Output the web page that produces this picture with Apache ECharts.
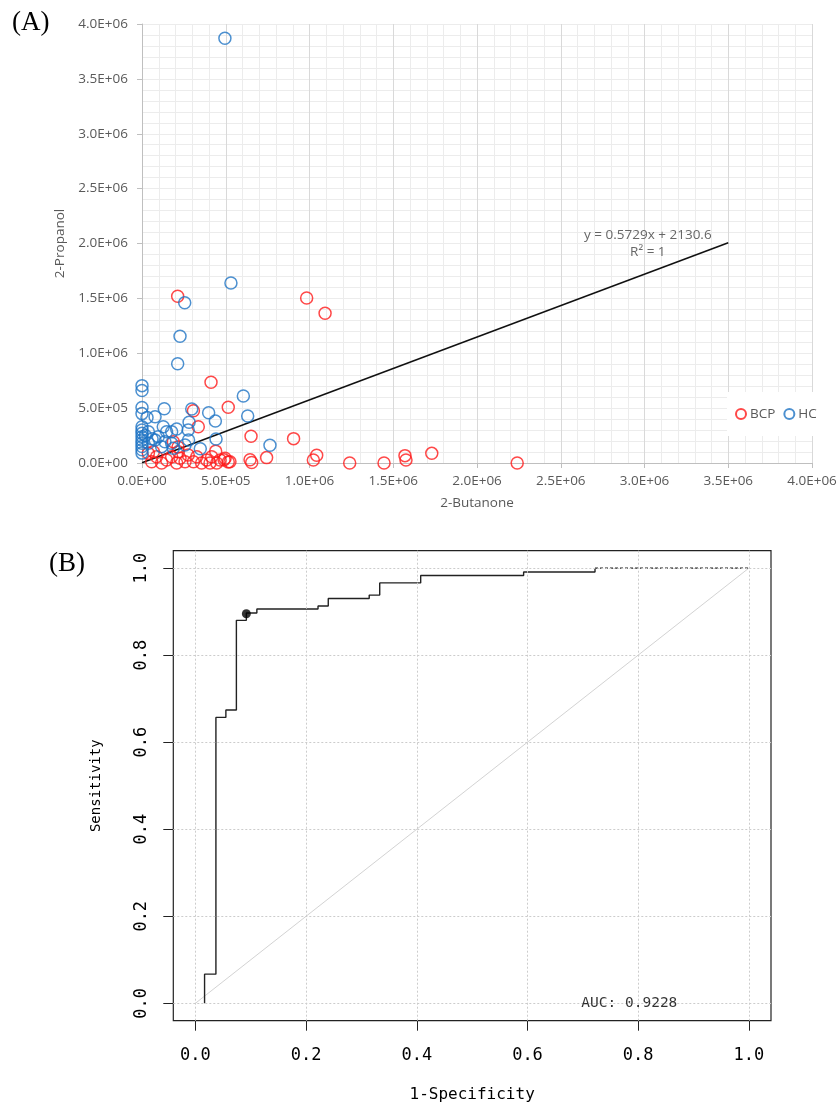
<!DOCTYPE html>
<html>
<head>
<meta charset="utf-8">
<script src="https://cdn.jsdelivr.net/npm/echarts@6/dist/echarts.min.js"></script>
<style>
html,body{margin:0;padding:0;background:#fff;}
#chart{width:840px;height:1104px;}
</style>
</head>
<body>
<div id="chart"></div>
<script>
// ---------- Panel A data (2-Butanone vs 2-Propanol) ----------
const axisTickLabelsA = ['0.0E+00','5.0E+05','1.0E+06','1.5E+06','2.0E+06','2.5E+06','3.0E+06','3.5E+06','4.0E+06'];

const bcpX = [213000, 983000, 1093000, 412000, 515000, 307000, 336000, 651000, 905000, 440000,
  744000, 1043000, 1023000, 1240000, 1445000, 1570000, 1576000, 1730000, 2240000, 645000,
  655000, 490000, 515000, 406000, 215000, 187000, 217000, 68000, 58000, 87000,
  117000, 147000, 177000, 207000, 227000, 257000, 276000, 307000, 327000, 356000,
  386000, 416000, 446000, 466000, 496000, 525000, 38000];
const bcpY = [1520000, 1503000, 1364000, 735000, 508000, 476000, 330000, 243000, 222000, 108000,
  49000, 70000, 27000, 0, 0, 67000, 27000, 88000, 0, 30000,
  5000, 30000, 10000, 0, 146000, 194000, 103000, 103000, 12000, 57000,
  0, 27000, 57000, 0, 43000, 12000, 73000, 12000, 57000, 0,
  27000, 57000, 0, 27000, 43000, 12000, 88000];

const hcX = [495000, 531000, 255000, 227000, 213000, 605000, 631000, 764000, 398000, 438000,
  442000, 297000, 281000, 278000, 348000, 133000, 78000, 30000,
  0, 0, 0, 0, 0, 0, 0, 0, 0, 0, 0, 0, 0,
  127000, 147000, 177000, 207000, 97000, 78000, 137000, 117000, 177000, 187000,
  38000, 38000, 257000, 276000, 20000, 60000];
const hcY = [3870000, 1640000, 1460000, 1155000, 905000, 610000, 428000, 161000, 458000, 383000,
  219000, 492000, 372000, 210000, 130000, 495000, 422000, 415000,
  705000, 660000, 505000, 450000, 330000, 300000, 270000, 240000, 210000, 180000, 150000, 120000, 90000,
  330000, 285000, 285000, 310000, 240000, 210000, 194000, 149000, 180000, 134000,
  285000, 180000, 164000, 300000, 250000, 220000];

const trendSlope = 0.5729;
const trendIntercept = 2130.6;
const trendX = [0, 3500000];
const trendText = 'y = 0.5729x + 2130.6\nR\u00b2 = 1';
const trendLabelPos = [3020000, 2000000];

// ---------- Panel B data (ROC) ----------
const rocFpr  = [0.0165, 0.0165, 0.037, 0.037, 0.055, 0.055, 0.074, 0.074, 0.092, 0.092, 0.111, 0.111,
  0.2215, 0.2215, 0.240, 0.240, 0.314, 0.314, 0.333, 0.333, 0.407, 0.407, 0.593, 0.593, 0.722, 0.722];
const rocSens = [0.0, 0.067, 0.067, 0.657, 0.657, 0.674, 0.674, 0.880, 0.880, 0.897, 0.897, 0.906,
  0.906, 0.913, 0.913, 0.930, 0.930, 0.938, 0.938, 0.966, 0.966, 0.983, 0.983, 0.991, 0.991, 1.0];
const rocTailFpr = [0.722, 1.0];
const rocTailSens = [1.0, 1.0];
const diagX = [0, 1];
const diagY = [0, 1];
const cutFpr = 0.092, cutSens = 0.895;
const aucText = 'AUC: 0.9228';
const aucPos = [0.784, 0.0];
const rocTicks = [0, 0.2, 0.4, 0.6, 0.8, 1.0];
const rocTickLabels = ['0.0', '0.2', '0.4', '0.6', '0.8', '1.0'];

// ---------- build ----------
const zip = (a, b) => a.map((v, i) => [v, b[i]]);
const gray = '#595959';
const fontA = '"Open Sans", "Liberation Sans", sans-serif';
const fontB = '"DejaVu Sans Mono", monospace';

const gridLines = [];
rocTicks.forEach(t => { gridLines.push({ xAxis: t }); gridLines.push({ yAxis: t }); });

const chart = echarts.init(document.getElementById('chart'), null, { renderer: 'canvas' });
chart.setOption({
  animation: false,
  backgroundColor: '#fff',
  grid: [
    { left: 142, top: 24, width: 670, height: 439 },
    { left: 173.3, top: 550.7, width: 597.7, height: 470, show: true, borderColor: '#222', borderWidth: 1.2, backgroundColor: 'transparent' }
  ],
  legend: {
    data: ['BCP', 'HC'],
    left: 727, top: 392,
    padding: [15, 4, 15, 8],
    backgroundColor: '#fff',
    itemWidth: 10, itemHeight: 10, itemGap: 8,
    textStyle: { color: gray, fontSize: 13.5, fontFamily: fontA, padding: [0, 0, 0, -1] }
  },
  xAxis: [
    {
      gridIndex: 0, type: 'value', min: 0, max: 4000000, interval: 500000,
      name: '2-Butanone', nameLocation: 'middle', nameGap: 33,
      nameTextStyle: { color: gray, fontSize: 13.5, fontFamily: fontA },
      axisLine: { show: true, onZero: false, lineStyle: { color: '#bfbfbf', width: 1 } },
      axisTick: { show: true, length: 5, lineStyle: { color: '#bfbfbf' } },
      axisLabel: { color: gray, fontSize: 13.5, fontFamily: fontA, margin: 11,
        formatter: v => axisTickLabelsA[Math.round(v / 500000)] },
      splitLine: { show: true, lineStyle: { color: '#d9d9d9', width: 1 } },
      minorTick: { show: false, splitNumber: 5 },
      minorSplitLine: { show: true, lineStyle: { color: '#ececec', width: 1 } }
    },
    {
      gridIndex: 1, type: 'value', min: -0.04, max: 1.04,
      name: '1-Specificity', nameLocation: 'middle', nameGap: 66,
      nameTextStyle: { color: '#000', fontSize: 16, fontFamily: fontB },
      axisLine: { show: false, onZero: false },
      axisTick: { show: true, length: 10, customValues: rocTicks, lineStyle: { color: '#222' } },
      axisLabel: { color: '#000', fontSize: 17, fontFamily: fontB, margin: 26, customValues: rocTicks,
        formatter: v => rocTickLabels[Math.round(v * 5)] },
      splitLine: { show: false }
    }
  ],
  yAxis: [
    {
      gridIndex: 0, type: 'value', min: 0, max: 4000000, interval: 500000,
      name: '2-Propanol', nameLocation: 'middle', nameGap: 73,
      nameTextStyle: { color: gray, fontSize: 13.5, fontFamily: fontA },
      axisLine: { show: true, onZero: false, lineStyle: { color: '#bfbfbf', width: 1 } },
      axisTick: { show: true, length: 5, lineStyle: { color: '#bfbfbf' } },
      axisLabel: { color: gray, fontSize: 13.5, fontFamily: fontA, margin: 14,
        formatter: v => axisTickLabelsA[Math.round(v / 500000)] },
      splitLine: { show: true, lineStyle: { color: '#ececec', width: 1 } },
      minorTick: { show: false, splitNumber: 5 },
      minorSplitLine: { show: true, lineStyle: { color: '#ececec', width: 1 } }
    },
    {
      gridIndex: 1, type: 'value', min: -0.04, max: 1.04,
      name: 'Sensitivity', nameLocation: 'middle', nameGap: 70,
      nameTextStyle: { color: '#000', fontSize: 14, fontFamily: fontB },
      axisLine: { show: false, onZero: false },
      axisTick: { show: true, length: 10, customValues: rocTicks, lineStyle: { color: '#222' } },
      axisLabel: { color: '#000', fontSize: 17, fontFamily: fontB, margin: 23, rotate: 90, customValues: rocTicks,
        formatter: v => rocTickLabels[Math.round(v * 5)] },
      splitLine: { show: false }
    }
  ],
  graphic: [
    { type: 'text', left: 12, top: 9, style: { text: '(A)', fontSize: 27, fontFamily: '"Liberation Serif", serif', fill: '#000' } },
    { type: 'text', left: 49, top: 550, style: { text: '(B)', fontSize: 27, fontFamily: '"Liberation Serif", serif', fill: '#000' } }
  ],
  series: [
    {
      name: 'TrendLine', type: 'line', xAxisIndex: 0, yAxisIndex: 0,
      data: trendX.map(x => [x, trendSlope * x + trendIntercept]),
      symbol: 'none', lineStyle: { color: '#111', width: 1.6 }, z: 3, silent: true
    },
    {
      name: 'BCP', type: 'scatter', xAxisIndex: 0, yAxisIndex: 0, clip: false,
      data: zip(bcpX, bcpY), symbol: 'circle', symbolSize: 12,
      itemStyle: { color: 'rgba(255,255,255,0)', borderColor: '#ff1a1a', borderWidth: 1.5 }, z: 4
    },
    {
      name: 'HC', type: 'scatter', xAxisIndex: 0, yAxisIndex: 0, clip: false,
      data: zip(hcX, hcY), symbol: 'circle', symbolSize: 12,
      itemStyle: { color: 'rgba(255,255,255,0)', borderColor: '#1f74c4', borderWidth: 1.5 }, z: 4
    },
    {
      name: 'TrendLabel', type: 'scatter', xAxisIndex: 0, yAxisIndex: 0,
      data: [trendLabelPos], symbolSize: 1, itemStyle: { color: 'rgba(0,0,0,0)' }, silent: true,
      label: { show: true, position: 'inside', formatter: trendText, color: '#404040', fontSize: 13.5,
        fontFamily: fontA, lineHeight: 17, align: 'center' }
    },
    {
      name: 'Diagonal', type: 'line', xAxisIndex: 1, yAxisIndex: 1,
      data: zip(diagX, diagY), symbol: 'none', lineStyle: { color: '#d3d3d3', width: 1 }, z: 2, silent: true,
      markLine: {
        silent: true, symbol: 'none', label: { show: false },
        lineStyle: { color: '#cccccc', width: 1, type: [2, 2] },
        data: gridLines
      }
    },
    {
      name: 'ROC', type: 'line', xAxisIndex: 1, yAxisIndex: 1,
      data: zip(rocFpr, rocSens), symbol: 'none', lineStyle: { color: '#222', width: 1.4 }, z: 4, silent: true
    },
    {
      name: 'ROCTail', type: 'line', xAxisIndex: 1, yAxisIndex: 1,
      data: zip(rocTailFpr, rocTailSens), symbol: 'none', lineStyle: { color: '#222', width: 1.2, type: [3, 2] }, z: 4, silent: true
    },
    {
      name: 'Cut', type: 'scatter', xAxisIndex: 1, yAxisIndex: 1,
      data: [[cutFpr, cutSens]], symbol: 'circle', symbolSize: 9, itemStyle: { color: '#000' }, z: 5
    },
    {
      name: 'AUC', type: 'scatter', xAxisIndex: 1, yAxisIndex: 1,
      data: [aucPos], symbolSize: 1, itemStyle: { color: 'rgba(0,0,0,0)' }, silent: true, z: 6,
      label: { show: true, position: 'inside', formatter: aucText, color: '#000', fontSize: 14.5, fontFamily: fontB, align: 'center' }
    }
  ]
});
</script>
</body>
</html>
